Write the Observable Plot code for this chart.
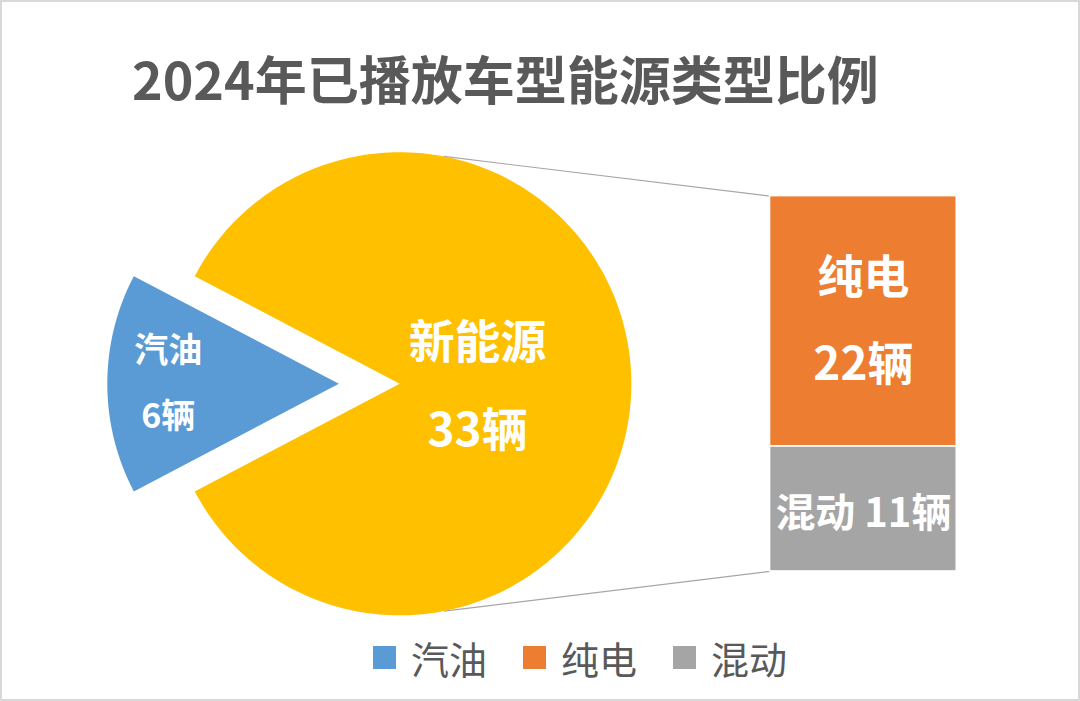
<!DOCTYPE html>
<html>
<head>
<meta charset="utf-8">
<script src="https://cdn.jsdelivr.net/npm/d3@7"></script>
<script src="https://cdn.jsdelivr.net/npm/@observablehq/plot@0.6"></script>
<style>
html, body { margin: 0; padding: 0; background: #fff; }
#wrap { position: relative; width: 1080px; height: 701px; box-sizing: border-box; border: 2px solid #D9D9D9; overflow: hidden; background: #fff;
  font-family: "Noto Sans CJK SC", "Noto Sans", sans-serif; }
#title { position: absolute; left: 130px; top: 48px; font-size: 52px; font-weight: bold; color: #595959; line-height: 56px; white-space: nowrap; }
#chart { position: absolute; left: -2px; top: -2px; }
#legend { position: absolute; left: 371px; top: 628px; }
.lg-swatches, .lg-swatches-wrap { font-family: "Noto Sans CJK SC", sans-serif !important; font-size: 38px !important; color: #595959 !important; margin: 0 !important; min-height: 0 !important; align-items: center !important; }
.lg-swatch { margin-right: 36px !important; display: inline-flex !important; align-items: center !important; color: #595959 !important; }
.lg-swatch > svg { margin-right: 15px !important; }
</style>
</head>
<body>
<div id="wrap">
  <div id="chart"></div>
  <div id="title"></div>
  <div id="legend"></div>
</div>
<script>
// ---- data ----
const titleText = "2024年已播放车型能源类型比例";
const pieCategories = ["汽油", "新能源"];
const pieValues = [6, 33];
const barCategories = ["纯电", "混动"];
const barValues = [22, 11];
const legendLabels = ["汽油", "纯电", "混动"];
const unitLabel = "辆";

// ---- styles / layout ----
const palette = {"汽油": "#5B9BD5", "新能源": "#FFC000", "纯电": "#ED7D31", "混动": "#A5A5A5"};
const PX = 232;                 // pixels per unit (pie radius = 1 unit)
const explode = 61 / PX;        // offset of the pulled-out slice
const barLeft = 371 / PX, barRight = 558 / PX, barHalf = 188 / PX;
const connectorAngle = 79 * Math.PI / 180;

document.getElementById("title").textContent = titleText;

// ---- pie geometry from values ----
const total = d3.sum(pieValues);
const gasSpan = 2 * Math.PI * pieValues[0] / total;
const gasStart = Math.PI - gasSpan / 2, gasEnd = Math.PI + gasSpan / 2;

function wedge(key, a0, a1, cx, cy, n = 240) {
  const pts = [{k: key, x: cx, y: cy}];
  for (let i = 0; i <= n; i++) {
    const a = a0 + (a1 - a0) * i / n;
    pts.push({k: key, x: cx + Math.cos(a), y: cy + Math.sin(a)});
  }
  pts.push({k: key, x: cx, y: cy});
  return pts;
}
const gasWedge = wedge(pieCategories[0], gasStart, gasEnd, -explode, 0);
const nevWedge = wedge(pieCategories[1], gasEnd, gasStart + 2 * Math.PI, 0, 0);

// ---- bar geometry from values ----
const barTotal = d3.sum(barValues);
const perUnit = (2 * barHalf) / barTotal;
const barRows = [];
let acc = -barHalf;
for (let i = barCategories.length - 1; i >= 0; i--) {
  const y1 = acc, y2 = acc + barValues[i] * perUnit;
  barRows.push({k: barCategories[i], v: barValues[i], y1, y2, x1: barLeft, x2: barRight});
  acc = y2;
}

const connectors = [
  {x1: Math.cos(connectorAngle), y1: Math.sin(connectorAngle), x2: barLeft, y2: barHalf},
  {x1: Math.cos(-connectorAngle), y1: Math.sin(-connectorAngle), x2: barLeft, y2: -barHalf}
];

// labels
const gasLabel = [{x: -explode - 0.737, y: 0, t: `${pieCategories[0]}\n${pieValues[0]}${unitLabel}`}];
const nevLabel = [{x: 0.336, y: 0, t: `${pieCategories[1]}\n${pieValues[1]}${unitLabel}`}];
const topRow = barRows.find(d => d.k === barCategories[0]);
const botRow = barRows.find(d => d.k === barCategories[1]);
const barLabelTop = [{x: (barLeft + barRight) / 2, y: (topRow.y1 + topRow.y2) / 2, t: `${topRow.k}\n${topRow.v}${unitLabel}`}];
const barLabelBot = [{x: (barLeft + barRight) / 2, y: (botRow.y1 + botRow.y2) / 2, t: `${botRow.k} ${botRow.v}${unitLabel}`}];

const chart = Plot.plot({
  width: 1080,
  height: 701,
  margin: 0,
  x: {domain: [-400 / PX, 680 / PX], axis: null},
  y: {domain: [-317 / PX, 384 / PX], axis: null},
  style: {fontFamily: '"Noto Sans CJK SC", "Noto Sans", sans-serif', background: "transparent"},
  marks: [
    Plot.link(connectors, {x1: "x1", y1: "y1", x2: "x2", y2: "y2", stroke: "#A6A6A6", strokeWidth: 1.2}),
    Plot.line(nevWedge, {x: "x", y: "y", fill: palette["新能源"], stroke: "none"}),
    Plot.line(gasWedge, {x: "x", y: "y", fill: palette["汽油"], stroke: "none"}),
    Plot.rect(barRows, {x1: "x1", x2: "x2", y1: "y1", y2: "y2", fill: d => palette[d.k], stroke: "white", strokeWidth: 1.5}),
    Plot.text(nevLabel, {x: "x", y: "y", text: "t", fill: "white", fontSize: 46, fontWeight: "bold", lineHeight: 1.92, dy: -10}),
    Plot.text(gasLabel, {x: "x", y: "y", text: "t", fill: "white", fontSize: 34, fontWeight: "bold", lineHeight: 1.95, dy: -10}),
    Plot.text(barLabelTop, {x: "x", y: "y", text: "t", fill: "white", fontSize: 46, fontWeight: "bold", lineHeight: 1.9, dy: -13}),
    Plot.text(barLabelBot, {x: "x", y: "y", text: "t", fill: "white", fontSize: 40, fontWeight: "bold", dy: 5})
  ]
});
document.getElementById("chart").appendChild(chart);

const legend = Plot.legend({
  color: {domain: legendLabels, range: legendLabels.map(k => palette[k])},
  legend: "swatches",
  swatchSize: 23,
  className: "lg"
});
document.getElementById("legend").appendChild(legend);
</script>
</body>
</html>
